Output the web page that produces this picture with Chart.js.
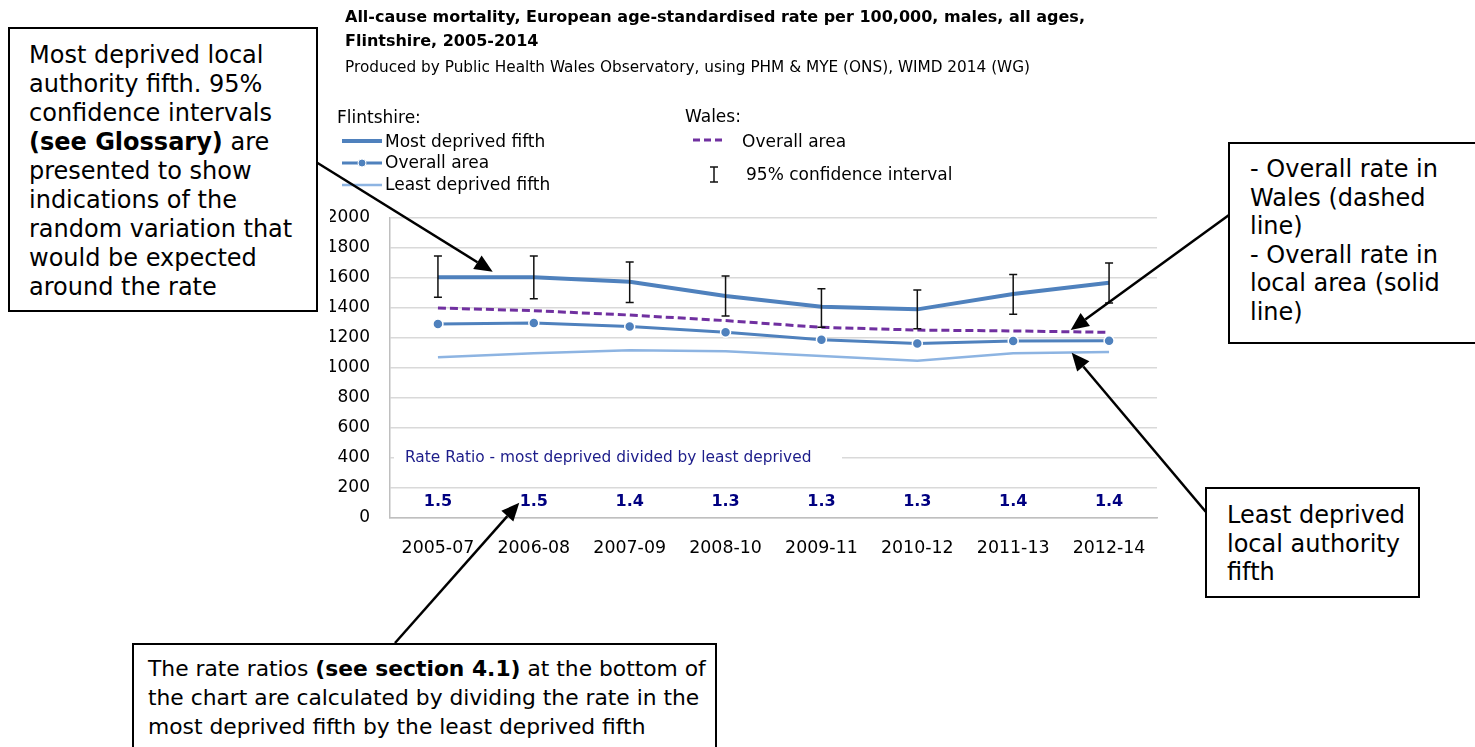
<!DOCTYPE html>
<html>
<head>
<meta charset="utf-8">
<title>All-cause mortality, males, Flintshire, 2005-2014</title>
<script src="https://cdn.jsdelivr.net/npm/chart.js@4.4.1/dist/chart.umd.min.js"></script>
<style>
  body { margin: 0; background: #fff; overflow: hidden; font-family: "DejaVu Sans", Verdana, sans-serif; }
  #wrap { position: relative; width: 1475px; height: 747px; }
  #chart { position: absolute; left: 0; top: 0; }
  #marks { position: absolute; left: 0; top: 0; }
  .t { position: absolute; white-space: nowrap; color: #000; }
  .title { font-weight: bold; font-size: 16px; line-height: 20px; }
  .sub { font-size: 15.3px; line-height: 20px; }
  .leg { font-size: 17px; line-height: 20px; }
  .box { position: absolute; box-sizing: border-box; border: 2px solid #000; background: #fff;
         font-size: 24px; color: #000; white-space: nowrap; }
</style>
</head>
<body>
<div id="wrap">
  <canvas id="chart" width="1475" height="747"></canvas>
  <svg id="marks" width="1475" height="747"></svg>

  <div class="t title" style="left:345px; top:7px;">All-cause mortality, European age-standardised rate per 100,000, males, all ages,</div>
  <div class="t title" style="left:345px; top:31px;">Flintshire, 2005-2014</div>
  <div class="t sub" style="left:345px; top:57px;">Produced by Public Health Wales Observatory, using PHM &amp; MYE (ONS), WIMD 2014 (WG)</div>

  <div class="t leg" style="left:337px; top:107px;">Flintshire:</div>
  <div class="t leg" style="left:385px; top:131px;">Most deprived fifth</div>
  <div class="t leg" style="left:385px; top:152px;">Overall area</div>
  <div class="t leg" style="left:385px; top:174px;">Least deprived fifth</div>
  <div class="t leg" style="left:685px; top:106px;">Wales:</div>
  <div class="t leg" style="left:742px; top:131px;">Overall area</div>
  <div class="t leg" style="left:746px; top:164px;">95% confidence interval</div>

  <div class="box" style="left:8px; top:27px; width:310px; height:285px; padding:12px 0 0 19px; line-height:29px;">
    Most deprived local<br>authority fifth. 95%<br>confidence intervals<br><b>(see Glossary)</b> are<br>presented to show<br>indications of the<br>random variation that<br>would be expected<br>around the rate
  </div>
  <div class="box" style="left:1228px; top:142px; width:260px; height:202px; padding:11px 0 0 20px; line-height:28.5px;">
    - Overall rate in<br>Wales (dashed<br>line)<br>- Overall rate in<br>local area (solid<br>line)
  </div>
  <div class="box" style="left:1205px; top:487px; width:215px; height:111px; padding:12px 0 0 20px; line-height:28.5px;">
    Least deprived<br>local authority<br>fifth
  </div>
  <div class="box" style="left:132px; top:643px; width:585px; height:120px; padding:9px 0 0 14px; line-height:29px; font-size:21.8px;">
    The rate ratios <b>(see section 4.1)</b> at the bottom of<br>the chart are calculated by dividing the rate in the<br>most deprived fifth by the least deprived fifth
  </div>
</div>

<script>
// rolling three-year periods
const periods = ['2005-07', '2006-08', '2007-09', '2008-10', '2009-11', '2010-12', '2011-13', '2012-14'];

// European age-standardised rate per 100,000
const mostDeprived      = [1605, 1605, 1575, 1480, 1409, 1391, 1493, 1569];
const mostDeprivedLower = [1471, 1462, 1436, 1347, 1271, 1262, 1358, 1433];
const mostDeprivedUpper = [1747, 1747, 1707, 1613, 1529, 1520, 1624, 1700];
const flintshireOverall = [1293, 1300, 1276, 1238, 1189, 1164, 1180, 1182];
const leastDeprived     = [1071, 1098, 1118, 1111, 1080, 1049, 1098, 1107];
const walesOverall      = [1400, 1382, 1353, 1316, 1271, 1253, 1247, 1238];

// most deprived / least deprived
const rateRatios = ['1.5', '1.5', '1.4', '1.3', '1.3', '1.3', '1.4', '1.4'];

const BLUE = '#4F81BD';
const LIGHT_BLUE = '#8DB4E2';
const PURPLE = '#7030A0';
const NAVY = '#000080';
const FONT = '"DejaVu Sans", Verdana, sans-serif';

// Error bars, rate ratio caption and ratio values
const extrasPlugin = {
    id: 'extras',
    beforeDatasetsDraw(chart) {
        const ctx = chart.ctx;
        const y = chart.scales.y;
        const yMid = y.getPixelForValue(400);
        ctx.save();
        ctx.fillStyle = '#fff';
        ctx.fillRect(chart.chartArea.left + 4, yMid - 10, 448, 20);
        ctx.fillStyle = '#1C1C8A';
        ctx.font = '15.4px ' + FONT;
        ctx.textBaseline = 'middle';
        ctx.textAlign = 'left';
        ctx.fillText('Rate Ratio - most deprived divided by least deprived', chart.chartArea.left + 15, yMid);
        ctx.restore();
    },
    afterDatasetsDraw(chart) {
        const ctx = chart.ctx;
        const x = chart.scales.x;
        const y = chart.scales.y;
        ctx.save();
        ctx.strokeStyle = '#111';
        ctx.lineWidth = 1.5;
        mostDeprived.forEach((v, i) => {
            const px = x.getPixelForValue(i);
            const top = y.getPixelForValue(mostDeprivedUpper[i]);
            const bot = y.getPixelForValue(mostDeprivedLower[i]);
            ctx.beginPath();
            ctx.moveTo(px, top); ctx.lineTo(px, bot);
            ctx.moveTo(px - 4, top); ctx.lineTo(px + 4, top);
            ctx.moveTo(px - 4, bot); ctx.lineTo(px + 4, bot);
            ctx.stroke();
        });
        ctx.fillStyle = NAVY;
        ctx.font = 'bold 16px ' + FONT;
        ctx.textAlign = 'center';
        ctx.textBaseline = 'middle';
        rateRatios.forEach((r, i) => {
            ctx.fillText(r, x.getPixelForValue(i), chart.chartArea.bottom - 16);
        });
        ctx.restore();
    }
};

new Chart(document.getElementById('chart'), {
    type: 'line',
    data: {
        labels: periods,
        datasets: [
            {
                label: 'Most deprived fifth',
                data: mostDeprived,
                borderColor: BLUE,
                borderWidth: 4,
                pointRadius: 0,
                order: 1
            },
            {
                label: 'Wales overall area',
                data: walesOverall,
                borderColor: PURPLE,
                borderWidth: 3,
                borderDash: [8, 4],
                pointRadius: 0,
                order: 2
            },
            {
                label: 'Overall area',
                data: flintshireOverall,
                borderColor: BLUE,
                borderWidth: 3,
                pointRadius: 5,
                pointBackgroundColor: BLUE,
                pointBorderColor: '#fff',
                pointBorderWidth: 1.5,
                order: 3
            },
            {
                label: 'Least deprived fifth',
                data: leastDeprived,
                borderColor: LIGHT_BLUE,
                borderWidth: 2.5,
                pointRadius: 0,
                order: 4
            }
        ]
    },
    options: {
        responsive: false,
        animation: false,
        layout: { padding: { left: 330, right: 318, top: 218, bottom: 189 } },
        plugins: {
            legend: { display: false },
            tooltip: { enabled: false }
        },
        scales: {
            x: {
                offset: true,
                grid: { display: false },
                border: { display: true, color: '#BFBFBF', width: 1.5 },
                ticks: { color: '#000', font: { family: FONT, size: 17.4 }, padding: 12, maxRotation: 0 },
                afterFit(scale) { scale.height = 40; }
            },
            y: {
                min: 0,
                max: 2000,
                ticks: {
                    stepSize: 200,
                    color: '#000',
                    font: { family: FONT, size: 17 },
                    padding: 20,
                    callback: (value) => String(value)
                },
                grid: { color: '#D9D9D9', lineWidth: 1.5, drawTicks: false },
                border: { display: true, color: '#BFBFBF', width: 1.5 },
                afterFit(scale) { scale.width = 60; }
            }
        }
    },
    plugins: [extrasPlugin]
});

// Legend swatches and annotation arrows
const NS = 'http://www.w3.org/2000/svg';
const svg = document.getElementById('marks');

function add(tag, attrs) {
    const el = document.createElementNS(NS, tag);
    for (const k in attrs) el.setAttribute(k, attrs[k]);
    svg.appendChild(el);
    return el;
}

add('line', { x1: 342, y1: 141, x2: 382, y2: 141, stroke: BLUE, 'stroke-width': 4 });
add('line', { x1: 342, y1: 163, x2: 382, y2: 163, stroke: BLUE, 'stroke-width': 3 });
add('circle', { cx: 362, cy: 163, r: 4, fill: BLUE, stroke: '#fff', 'stroke-width': 1 });
add('line', { x1: 342, y1: 185, x2: 382, y2: 185, stroke: LIGHT_BLUE, 'stroke-width': 2.5 });
add('line', { x1: 693, y1: 140, x2: 725, y2: 140, stroke: PURPLE, 'stroke-width': 3, 'stroke-dasharray': '7 4' });
add('path', { d: 'M714 167 V182 M710 167 H718 M710 182 H718', stroke: '#111', 'stroke-width': 1.5, fill: 'none' });

function arrow(x1, y1, x2, y2) {
    const len = Math.hypot(x2 - x1, y2 - y1);
    const ux = (x2 - x1) / len, uy = (y2 - y1) / len;
    const head = 18, half = 8;
    const bx = x2 - ux * head, by = y2 - uy * head;
    add('line', { x1: x1, y1: y1, x2: bx, y2: by, stroke: '#000', 'stroke-width': 2.5 });
    const pts = [
        [x2, y2],
        [bx - uy * half, by + ux * half],
        [bx + uy * half, by - ux * half]
    ].map(p => p.join(',')).join(' ');
    add('polygon', { points: pts, fill: '#000' });
}

arrow(316, 162, 492.7, 271.7);
arrow(1229, 215, 1070.7, 330);
arrow(1205.7, 511.7, 1071.7, 352.7);
arrow(395, 643, 519.3, 502.7);
</script>
</body>
</html>
